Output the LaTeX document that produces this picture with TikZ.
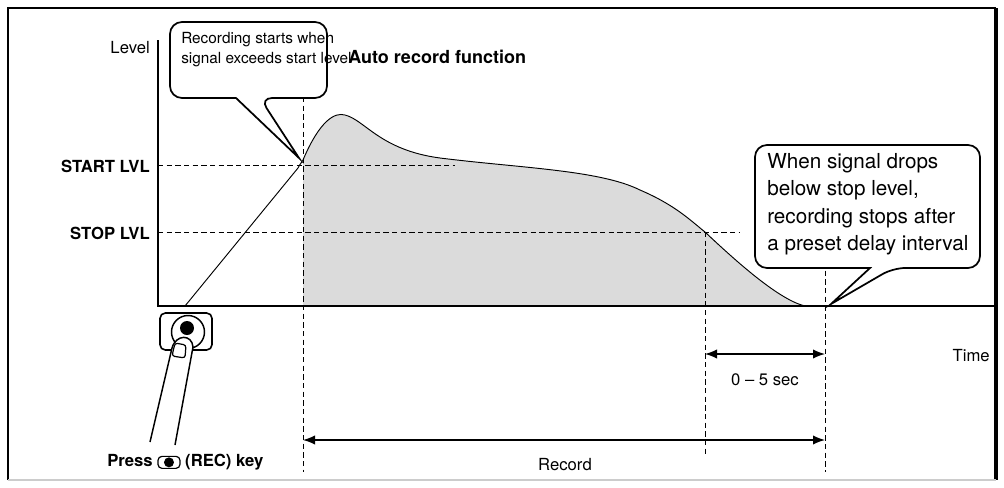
\documentclass[tikz,border=0pt]{standalone}
\usepackage{fontspec}
\setmainfont{TeX Gyre Heros}
\usetikzlibrary{arrows.meta}
\begin{document}
\begin{tikzpicture}[x=0.75pt,y=-0.75pt,
  lbl/.style={font=\fontsize{12.5}{14}\selectfont,inner sep=0pt},
  blbl/.style={lbl,font=\fontsize{12.5}{14}\selectfont\bfseries},
  big/.style={font=\fontsize{15.5}{20.5}\selectfont,inner sep=0pt},
  mid/.style={font=\fontsize{11.5}{15}\selectfont,inner sep=0pt},
  dsh/.style={line width=0.6pt,dash pattern=on 4pt off 2.5pt},
  callout/.style={draw,line width=1.3pt,fill=white,rounded corners=9pt},
  dim/.style={line width=1pt,<->,>={Latex[length=9pt,width=7pt]}}]
\useasboundingbox (0,0) rectangle (1004,487);
% frame
\draw[line width=1pt] (8,480) -- (8,8) -- (996,8);
\draw[line width=2.5pt] (996,8) -- (996,480);
\draw[gray!40,line width=1pt] (8,480) -- (996,480);
% fill
\fill[gray!28] (303,306) -- (303,160) .. controls (320,120) and (335,112) .. (345,115)
  .. controls (365,120) and (380,150) .. (440,158)
  .. controls (520,168) and (600,170) .. (640,190)
  .. controls (675,205) and (690,220) .. (705,232)
  .. controls (740,265) and (780,300) .. (805,306) -- cycle;
% curve
\draw[line width=0.7pt] (185,306) -- (298,168) .. controls (300,164) and (302,162) .. (303,160) .. controls (320,120) and (335,112) .. (345,115)
  .. controls (365,120) and (380,150) .. (440,158)
  .. controls (520,168) and (600,170) .. (640,190)
  .. controls (675,205) and (690,220) .. (705,232)
  .. controls (740,265) and (780,300) .. (805,306);
% axes
\draw[line width=1.3pt] (158,40) -- (158,306) -- (996,306);
% dashed
\draw[dsh] (158,165) -- (455,165);
\draw[dsh] (158,232) -- (740,232);
\draw[dsh] (303,97) -- (303,472);
\draw[dsh] (705,232) -- (705,455);
\draw[dsh] (825,262) -- (825,472);
% labels
\node[lbl,anchor=east] (lev) at (150,48) {Level};
\node[blbl,anchor=east] (sl) at (150,166) {START LVL};
\node[blbl,anchor=east] (tl) at (150,233) {STOP LVL};
\node[blbl,font=\fontsize{13.5}{15}\selectfont\bfseries,anchor=west] (title) at (348,57) {Auto record function};
\node[lbl,anchor=east] (time) at (990,356) {Time};
% dimension arrows
\coordinate (a1) at (705,354); \coordinate (a2) at (825,354);
\draw[dim] (a1) -- (a2);
\node[lbl] (sec) at (765,380) {0 -- 5 sec};
\coordinate (r1) at (303,440); \coordinate (r2) at (825,440);
\draw[dim] (r1) -- (r2);
\node[lbl] (rec) at (565,465) {Record};
% callouts
\draw[callout] (170,22) -- (327,22) -- (327,98) -- (260,98) [sharp corners] -- (299,158) -- (236,98) [rounded corners=9pt] -- (170,98) -- cycle;
\node[mid,align=left,anchor=north west] (c1) at (181,32) {Recording starts when\\signal exceeds start level};
\draw[callout] (755,145) -- (980,145) -- (980,268) -- (893,268) [sharp corners] -- (831,304) -- (870,268) [rounded corners=9pt] -- (755,268) -- cycle;
\node[big,align=left,anchor=north west] (c2) at (767,153) {When signal drops\\below stop level,\\recording stops after\\a preset delay interval};
% button
\draw[line width=1.2pt,rounded corners=4pt] (160,313) rectangle (212,350);
\draw[line width=1.1pt] (188,332) circle (16.5);
\fill (187,328) circle (7);
\draw[line width=1.1pt,fill=white] (150,442) -- (172,348) .. controls (176,334) and (192,334) .. (193,347) -- (175,445);
\draw[line width=0.9pt,rounded corners=2pt] (172,356) -- (175,343) -- (186,345) -- (185,358) -- cycle;
\node[blbl,anchor=west] (press) at (107,462) {Press \tikz[baseline=-3pt]{\draw[line width=0.9pt,rounded corners=3pt] (0,-6) rectangle (22,6);\fill (11,0) circle (5);} (REC) key};
\end{tikzpicture}
\end{document}
